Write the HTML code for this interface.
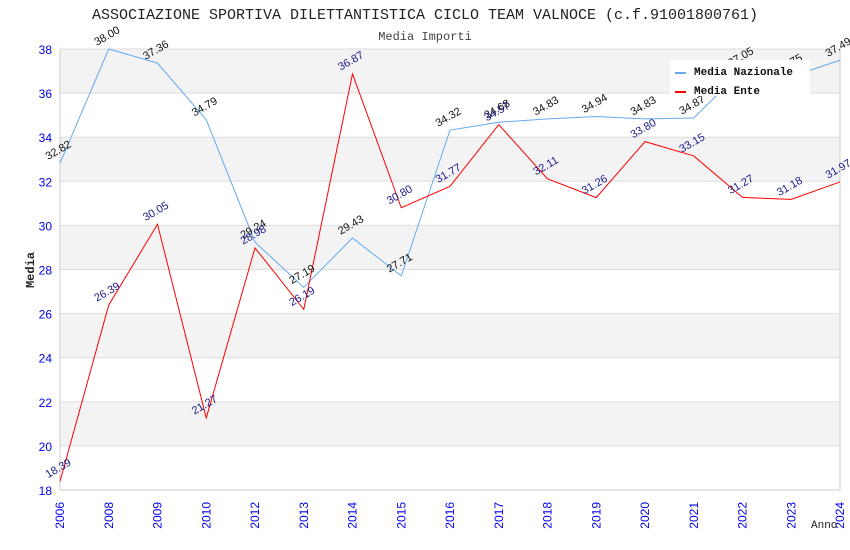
<!DOCTYPE html>
<html><head><meta charset="utf-8"><style>
body{margin:0;background:#fff}
svg{display:block}
</style></head><body>
<svg id="c" width="850" height="550" xmlns="http://www.w3.org/2000/svg">
<text x="425" y="19" text-anchor="middle" font-family="Liberation Mono, monospace" font-size="15" fill="#222">ASSOCIAZIONE SPORTIVA DILETTANTISTICA CICLO TEAM VALNOCE (c.f.91001800761)</text>
<text x="425" y="40" text-anchor="middle" font-family="Liberation Mono, monospace" font-size="12" fill="#444">Media Importi</text>
<g id="bands"></g><g id="grid"></g><g id="axes"></g><g id="series"></g><g id="labels"></g>
<text x="34" y="270" transform="rotate(-90 34 270)" text-anchor="middle" font-family="Liberation Mono, monospace" font-size="12" font-weight="bold" fill="#222">Media</text>
<text x="811" y="528" font-family="Liberation Mono, monospace" font-size="11" fill="#222">Anno</text>
<g>
<rect x="670" y="60" width="140" height="36" fill="#fff"/>
<g><line x1="675" y1="73" x2="686" y2="73" stroke="#66aaee" stroke-width="2"/><text x="694" y="75" font-family="Liberation Mono, monospace" font-size="11" font-weight="bold" fill="#111">Media Nazionale</text></g>
<g><line x1="675" y1="92" x2="686" y2="92" stroke="#ff0000" stroke-width="2"/><text x="694" y="94" font-family="Liberation Mono, monospace" font-size="11" font-weight="bold" fill="#111">Media Ente</text></g>
</g>
</svg>
<script>
const categories=["2006","2008","2009","2010","2012","2013","2014","2015","2016","2017","2018","2019","2020","2021","2022","2023","2024"];
const nazionale=[32.82,38.00,37.36,34.79,29.24,27.19,29.43,27.71,34.32,34.68,34.83,34.94,34.83,34.87,37.05,36.75,37.49];
const ente=[18.39,26.39,30.05,21.27,28.98,26.19,36.87,30.80,31.77,34.57,32.11,31.26,33.80,33.15,31.27,31.18,31.97];
const yTicks=[18,20,22,24,26,28,30,32,34,36,38];
const NS="http://www.w3.org/2000/svg";
const L=60,R=840,T=49,B=490,ymin=18,ymax=38;
const x=i=>L+i*(R-L)/(categories.length-1);
const y=v=>B-(v-ymin)/(ymax-ymin)*(B-T);
function mk(tag,attrs,parent){const e=document.createElementNS(NS,tag);for(const k in attrs)e.setAttribute(k,attrs[k]);document.getElementById(parent).appendChild(e);return e;}
for(let i=0;i<yTicks.length-1;i++){
 if(i%2===1){const r=mk('rect',{x:L,y:y(yTicks[i+1]),width:R-L,height:y(yTicks[i])-y(yTicks[i+1]),fill:'#f3f3f3'},'bands');
 
 }
}
yTicks.forEach(t=>{
 const g=mk('line',{x1:L,x2:R,y1:y(t),y2:y(t),stroke:'#dddddd','stroke-width':1},'grid');
 
 
 const tx=mk('text',{x:L-8,y:y(t)+5,'text-anchor':'end','font-family':'Liberation Sans, sans-serif','font-size':12,fill:'#0000ee'},'axes');
 tx.textContent=t;
 
 
});
const ax=mk('path',{d:`M${L},${T}V${B}H${R}V${T}`,fill:'none',stroke:'#cccccc','stroke-width':1},'axes');


categories.forEach((c,i)=>{
 const tx=mk('text',{x:0,y:0,'text-anchor':'end','font-family':'Liberation Sans, sans-serif','font-size':12,fill:'#0000ee',transform:`translate(${x(i)+4},${B+12}) rotate(-90)`},'axes');
 tx.textContent=c;
 
 
});
function series(vals,color,lblColor,name){
 const p=mk('polyline',{points:vals.map((v,i)=>x(i)+','+y(v)).join(' '),fill:'none',stroke:color,'stroke-width':1},'series');
 
 
 vals.forEach((v,i)=>{
  const t=mk('text',{x:0,y:0,'text-anchor':'middle','font-family':'Liberation Sans, sans-serif','font-size':11,fill:lblColor,transform:`translate(${x(i)},${y(v)-10}) rotate(-30)`},'labels');
  t.textContent=v.toFixed(2);
  
  
 });
}
series(nazionale,'#66aaee','#111','nazionale');
series(ente,'#ff0000','#1a1a8c','ente');
</script>
</body></html>
